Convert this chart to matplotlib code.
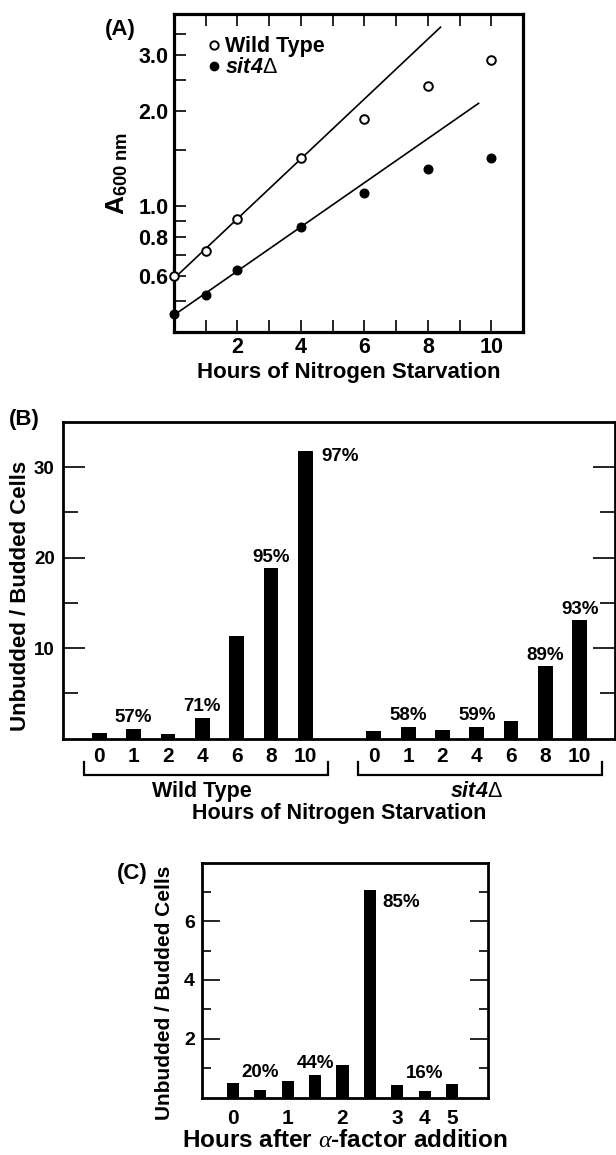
import numpy as np
import matplotlib
matplotlib.use('Agg')
import matplotlib.pyplot as plt
from matplotlib.ticker import FixedLocator, NullFormatter, MultipleLocator
from matplotlib.lines import Line2D

plt.rcParams['font.family'] = ['Liberation Sans', 'DejaVu Sans']
plt.rcParams['font.weight'] = 'bold'
plt.rcParams['axes.labelweight'] = 'bold'
plt.rcParams['mathtext.fontset'] = 'custom'
plt.rcParams['mathtext.rm'] = 'Liberation Sans:weight=normal'
plt.rcParams['mathtext.bf'] = 'Liberation Sans:bold'
plt.rcParams['mathtext.it'] = 'Liberation Serif:italic:weight=normal'
plt.rcParams['mathtext.bfit'] = 'Liberation Sans:bold:italic'

# ---- data ----
# (A) culture density during nitrogen starvation
a_hours = [0, 1, 2, 4, 6, 8, 10]
a_wt = [0.60, 0.72, 0.91, 1.42, 1.88, 2.40, 2.90]
a_sit4 = [0.455, 0.525, 0.627, 0.86, 1.10, 1.31, 1.42]
a_fit_n = 4               # first points used for the fit lines
a_fit_end = [8.4, 9.6]    # hour where each fit line stops

# (B) unbudded / budded ratio
b_hours = ['0', '1', '2', '4', '6', '8', '10']
b_wt = [0.66, 1.1, 0.55, 2.3, 11.3, 18.8, 31.8]
b_sit4 = [0.8, 1.3, 0.9, 1.3, 1.95, 8.0, 13.1]
b_wt_pct = ['', '57%', '', '71%', '', '95%', '97%']
b_sit4_pct = ['', '58%', '', '59%', '', '89%', '93%']

# (C) after alpha-factor addition
c_ratio = [0.51, 0.24, 0.57, 0.77, 1.11, 7.08, 0.44, 0.22, 0.47]
c_pct = ['', '20%', '', '44%', '', '85%', '', '16%', '']
c_tick_idx = [0, 2, 4, 6, 7, 8]
c_tick_lab = ['0', '1', '2', '3', '4', '5']

W, H = 616, 1155


def box(l, t, r, b):
    return [l / W, 1 - b / H, (r - l) / W, (b - t) / H]


fig = plt.figure(figsize=(W / 100, H / 100), dpi=100)

# ================= (A) =================
ax = fig.add_axes(box(174, 14, 523, 332))
ax.set_yscale('log')
ax.set_xlim(0, 11)
ax.set_ylim(0.4, 4.05)
for s in ax.spines.values():
    s.set_linewidth(2.3)

ax.plot(a_hours, a_wt, 'o', ms=6.2, mfc='white', mec='black', mew=1.4, clip_on=False, zorder=3)
ax.plot(a_hours, a_sit4, 'o', ms=6.2, mfc='black', mec='black', clip_on=False, zorder=3)
for ys, xend in zip([a_wt, a_sit4], a_fit_end):
    k, b0 = np.polyfit(a_hours[:a_fit_n], np.log10(ys[:a_fit_n]), 1)
    xx = np.array([0, xend])
    ax.plot(xx, 10 ** (k * xx + b0), color='black', lw=1.2)

ax.set_xticks([2, 4, 6, 8, 10])
ax.xaxis.set_minor_locator(MultipleLocator(1))
ax.tick_params(axis='x', which='both', direction='in', top=True, bottom=True,
               length=8.5, width=1.2, labelsize=15.5, pad=3.5)
ax.yaxis.set_major_locator(FixedLocator([0.6, 0.8, 1.0, 2.0, 3.0]))
ax.set_yticklabels(['0.6', '0.8', '1.0', '2.0', '3.0'])
ax.yaxis.set_minor_locator(FixedLocator([0.5, 0.7, 0.9, 1.5, 2.5, 3.5]))
ax.yaxis.set_minor_formatter(NullFormatter())
ax.tick_params(axis='y', which='both', direction='in', left=True, right=False,
               length=8.5, width=1.2, labelsize=15.5, pad=4)
ax.set_xlabel('Hours of Nitrogen Starvation', fontsize=16, labelpad=3)
ax.set_ylabel(r'A$_{\mathbf{600\ nm}}$', fontsize=19)
ax.yaxis.set_label_coords(-0.126, 0.5)

handles = [Line2D([], [], ls='none', marker='o', ms=6, mfc='white', mec='black', mew=1.4),
           Line2D([], [], ls='none', marker='o', ms=6, mfc='black', mec='black')]
ax.legend(handles, ['Wild Type', r'$\mathbfit{sit4}\Delta$'], loc='upper left',
          bbox_to_anchor=(0.095, 0.93), frameon=False, fontsize=15.5,
          handlelength=0.6, handletextpad=0.25, borderpad=0, labelspacing=0.0,
          borderaxespad=0)

fig.text(120 / W, 1 - 29 / H, '(A)', fontsize=16, ha='center', va='center')


def pct_labels(ax, xs, hs, labels, fs, half_w, gaps, side_off, top):
    for x, h, t, g in zip(xs, hs, labels, gaps):
        if not t:
            continue
        if h == top:
            ax.annotate(t, (x + half_w, h), xytext=side_off, textcoords='offset points',
                        ha='left', va='top', fontsize=fs)
        else:
            ax.annotate(t, (x, h), xytext=(0, g), textcoords='offset points',
                        ha='center', va='baseline', fontsize=fs)


# ================= (B) =================
ax = fig.add_axes(box(63, 422, 615, 738.5))
bw = 0.43
wt_x = np.arange(len(b_wt))
sit_x = np.arange(len(b_sit4)) + len(b_wt) + 1
ax.bar(wt_x, b_wt, width=bw, color='black')
ax.bar(sit_x, b_sit4, width=bw, color='black')
ax.set_xlim(-1.06, 15.03)
ax.set_ylim(0, 35)
for s in ax.spines.values():
    s.set_linewidth(2)
ax.set_yticks([10, 20, 30])
ax.yaxis.set_minor_locator(FixedLocator([5, 15, 25]))
ax.tick_params(axis='y', which='major', direction='in', left=True, right=True,
               length=16, width=1.2, labelsize=13.5, pad=6)
ax.tick_params(axis='y', which='minor', direction='in', left=True, right=True,
               length=11, width=1.2)
ax.set_xticks(np.concatenate([wt_x, sit_x]), b_hours + b_hours)
ax.tick_params(axis='x', length=0, labelsize=15, pad=6)
ax.set_ylabel('Unbudded / Budded Cells', fontsize=16)
ax.yaxis.set_label_coords(-0.058, 0.45)

b_top = max(b_wt + b_sit4)
pct_labels(ax, wt_x, b_wt, b_wt_pct, 13.5, bw / 2, [4.7] * 7, (6.5, 2), b_top)
pct_labels(ax, sit_x, b_sit4, b_sit4_pct, 13.5, bw / 2, [4.7] * 7, (6.5, 2), b_top)

tr = ax.get_xaxis_transform()
yb0 = (738.5 - 762) / 316.5
yb1 = (738.5 - 775) / 316.5
for xs in (wt_x, sit_x):
    x0, x1 = xs[0] - 0.45, xs[-1] + 0.65
    ax.plot([x0, x0, x1, x1], [yb0, yb1, yb1, yb0], color='black', lw=1.6,
            transform=tr, clip_on=False, solid_joinstyle='miter')
ylab = (738.5 - 797) / 316.5
ax.text(wt_x.mean(), ylab, 'Wild Type', transform=tr, ha='center', va='baseline', fontsize=15.5)
ax.text(sit_x.mean(), ylab, r'$\mathbfit{sit4}\Delta$', transform=tr, ha='center',
        va='baseline', fontsize=15.5)
ax.text((wt_x[0] + sit_x[-1]) / 2, (738.5 - 819) / 316.5, 'Hours of Nitrogen Starvation',
        transform=tr, ha='center', va='baseline', fontsize=15.5)

fig.text(24 / W, 1 - 420 / H, '(B)', fontsize=16, ha='center', va='center')

# ================= (C) =================
ax = fig.add_axes(box(201.7, 862.5, 488.3, 1097.5))
cw = 0.44
c_x = np.arange(len(c_ratio))
ax.bar(c_x, c_ratio, width=cw, color='black')
ax.set_xlim(-1.13, 9.31)
ax.set_ylim(0, 8)
for s in ax.spines.values():
    s.set_linewidth(2)
ax.set_yticks([2, 4, 6])
ax.yaxis.set_minor_locator(FixedLocator([1, 3, 5, 7]))
ax.tick_params(axis='y', which='major', direction='in', left=True, right=True,
               length=13, width=1.2, labelsize=14, pad=5)
ax.tick_params(axis='y', which='minor', direction='in', left=True, right=True,
               length=6.5, width=1.2)
ax.set_xticks(c_x[c_tick_idx], c_tick_lab)
ax.tick_params(axis='x', length=0, labelsize=15, pad=8)
ax.set_xlabel(r'Hours after $\alpha$-factor addition', fontsize=17.5, labelpad=1)
ax.set_ylabel('Unbudded / Budded Cells', fontsize=15)
ax.yaxis.set_label_coords(-0.097, 0.447)

c_gap = [0, 9.5, 0, 5, 0, 0, 0, 9.5, 0]
pct_labels(ax, c_x, c_ratio, c_pct, 13.5, cw / 2, c_gap, (4.8, -3), max(c_ratio))

fig.text(132 / W, 1 - 873 / H, '(C)', fontsize=16, ha='center', va='center')

fig.savefig('out.png', dpi=100)
